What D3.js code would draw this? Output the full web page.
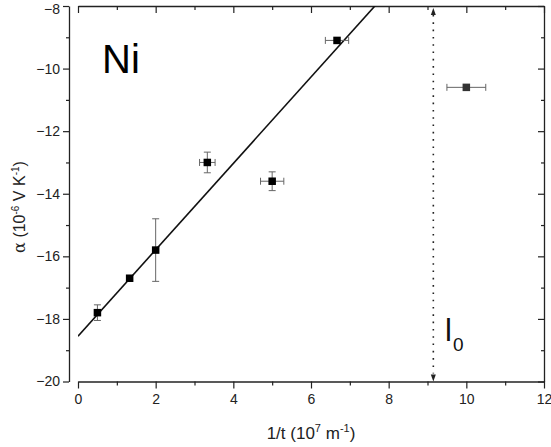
<!DOCTYPE html>
<html>
<head>
<meta charset="utf-8">
<script src="https://cdn.jsdelivr.net/npm/d3@7"></script>
<style>
  body { margin: 0; background: #fff; }
  text { font-family: "Liberation Sans", Arial, sans-serif; }
</style>
</head>
<body>
<div id="vis"><svg></svg></div>
<script>
const WIDTH = 551;
const HEIGHT = 447;

// data
const xVals = [0.5, 1.33, 2, 3.33, 5, 6.67, 10];
const yVals = [-17.8, -16.7, -15.8, -13.0, -13.6, -9.1, -10.6];
const xErr = [0, 0, 0, 0.2, 0.3, 0.3, 0.5];
const yErr = [0.25, 0, 1.0, 0.33, 0.3, 0, 0];
const markColors = ["#000", "#000", "#000", "#000", "#000", "#000", "#333"];
const fitIntercept = -18.55;
const fitSlope = 1.38;
const l0Pos = 9.15;
const xTicks = [0, 2, 4, 6, 8, 10, 12];
const xMinor = [1, 3, 5, 7, 9, 11];
const yTicks = [-20, -18, -16, -14, -12, -10, -8];
const yMinor = [-19, -17, -15, -13, -11, -9];

const points = xVals.map((x, i) => ({ x, y: yVals[i], ex: xErr[i], ey: yErr[i], c: markColors[i] }));

const svg = d3.select("#vis").select("svg").attr("width", WIDTH).attr("height", HEIGHT);

const x = d3.scaleLinear().domain([0, 12]).range([78, 544]);
const y = d3.scaleLinear().domain([-20, -8]).range([381.5, 6]);
const leftX = 69;

const styleAxis = (g) => {
  g.select(".domain").attr("stroke", "#222").attr("stroke-width", 1.3);
  g.selectAll(".tick line").attr("stroke", "#222").attr("stroke-width", 1.2);
  g.selectAll("text").attr("font-size", 14).attr("fill", "#222").style("font-family", "'Liberation Sans', Arial, sans-serif");
};

// left axis, set off from the plot
const leftAxis = svg.append("g").attr("transform", `translate(${leftX},0)`)
  .call(d3.axisLeft(y).tickValues(yTicks).tickSize(6).tickSizeOuter(0).tickPadding(3))
  .call(styleAxis);
// top label sits right at the edge; push it down a touch so it is not clipped
leftAxis.selectAll(".tick text").filter((d) => d === -8).attr("dy", "0.55em");
svg.append("g").attr("transform", `translate(${leftX},0)`)
  .call(d3.axisLeft(y).tickValues(yMinor).tickSize(3).tickFormat(""))
  .call(styleAxis).select(".domain").remove();

// bottom axis
svg.append("g").attr("transform", `translate(0,${y(-20)})`)
  .call(d3.axisBottom(x).tickValues(xTicks).tickSize(7).tickSizeOuter(0).tickPadding(6))
  .call(styleAxis);
svg.append("g").attr("transform", `translate(0,${y(-20)})`)
  .call(d3.axisBottom(x).tickValues(xMinor).tickSize(4).tickFormat(""))
  .call(styleAxis).select(".domain").remove();

// top axis, inward ticks
svg.append("g").attr("transform", `translate(0,${y(-8)})`)
  .call(d3.axisTop(x).tickValues(xTicks).tickSize(-7).tickSizeOuter(0).tickFormat(""))
  .call(styleAxis);
svg.append("g").attr("transform", `translate(0,${y(-8)})`)
  .call(d3.axisTop(x).tickValues(xMinor).tickSize(-4).tickFormat(""))
  .call(styleAxis).select(".domain").remove();

// right axis, inward ticks
svg.append("g").attr("transform", `translate(${x(12)},0)`)
  .call(d3.axisRight(y).tickValues(yTicks).tickSize(-6).tickSizeOuter(0).tickFormat(""))
  .call(styleAxis);
svg.append("g").attr("transform", `translate(${x(12)},0)`)
  .call(d3.axisRight(y).tickValues(yMinor).tickSize(-3).tickFormat(""))
  .call(styleAxis).select(".domain").remove();

// fit line, clipped to the frame
svg.append("clipPath").attr("id", "plot-clip")
  .append("rect").attr("x", x(0)).attr("y", y(-8)).attr("width", x(12) - x(0)).attr("height", y(-20) - y(-8));

const fitLine = d3.line().x((d) => x(d)).y((d) => y(fitIntercept + fitSlope * d));
svg.append("path")
  .attr("clip-path", "url(#plot-clip)")
  .attr("d", fitLine([0, 12]))
  .attr("fill", "none")
  .attr("stroke", "#111")
  .attr("stroke-width", 1.6);

// l0 dotted marker with arrow heads
svg.append("line")
  .attr("x1", x(l0Pos)).attr("x2", x(l0Pos))
  .attr("y1", y(-8) + 9).attr("y2", y(-20) - 8)
  .attr("stroke", "#222").attr("stroke-width", 1.6)
  .attr("stroke-dasharray", "1.6,5.7");
svg.append("path")
  .attr("d", `M${x(l0Pos)},${y(-8) + 2}l-2.5,7h5z`)
  .attr("fill", "#222");
svg.append("path")
  .attr("d", `M${x(l0Pos)},${y(-20)}l-2.5,-7h5z`)
  .attr("fill", "#222");

// error bars
const errG = svg.append("g").attr("class", "errors").attr("stroke", "#666").attr("stroke-width", 1).attr("fill", "none");
const cap = 3.5;
points.forEach((d) => {
  if (d.ey > 0) {
    errG.append("path").attr("d",
      `M${x(d.x)},${y(d.y + d.ey)}V${y(d.y - d.ey)}` +
      `M${x(d.x) - cap},${y(d.y + d.ey)}h${2 * cap}` +
      `M${x(d.x) - cap},${y(d.y - d.ey)}h${2 * cap}`);
  }
  if (d.ex > 0) {
    errG.append("path").attr("d",
      `M${x(d.x - d.ex)},${y(d.y)}H${x(d.x + d.ex)}` +
      `M${x(d.x - d.ex)},${y(d.y) - cap}v${2 * cap}` +
      `M${x(d.x + d.ex)},${y(d.y) - cap}v${2 * cap}`);
  }
});

// markers
const size = 7.5;
svg.append("g").attr("class", "markers")
  .selectAll("rect")
  .data(points)
  .join("rect")
  .attr("x", (d) => x(d.x) - size / 2)
  .attr("y", (d) => y(d.y) - size / 2)
  .attr("width", size)
  .attr("height", size)
  .attr("fill", (d) => d.c);

// labels
svg.append("text").attr("x", 102).attr("y", 73).attr("font-size", 40).attr("fill", "#000").text("Ni");

const l0 = svg.append("text").attr("x", 445).attr("y", 341).attr("font-size", 31).attr("fill", "#111");
l0.append("tspan").text("l");
l0.append("tspan").attr("font-size", 19).attr("dy", 10).attr("dx", 1).text("0");

// axis titles
const xt = svg.append("text").attr("x", 311).attr("y", 439).attr("text-anchor", "middle").attr("font-size", 17).attr("fill", "#222");
xt.append("tspan").text("1/t (10");
xt.append("tspan").attr("font-size", 11).attr("dy", -7).text("7");
xt.append("tspan").attr("dy", 7).text(" m");
xt.append("tspan").attr("font-size", 11).attr("dy", -7).text("-1");
xt.append("tspan").attr("dy", 7).text(")");

const yt = svg.append("text")
  .attr("transform", "translate(25,207) rotate(-90)")
  .attr("text-anchor", "middle").attr("font-size", 16).attr("fill", "#222");
yt.append("tspan").style("font-family", "'DejaVu Serif', serif").text("α");
yt.append("tspan").text(" (10");
yt.append("tspan").attr("font-size", 10).attr("dy", -6).text("-6");
yt.append("tspan").attr("dy", 6).text(" V K");
yt.append("tspan").attr("font-size", 10).attr("dy", -6).text("-1");
yt.append("tspan").attr("dy", 6).text(")");
</script>
</body>
</html>
